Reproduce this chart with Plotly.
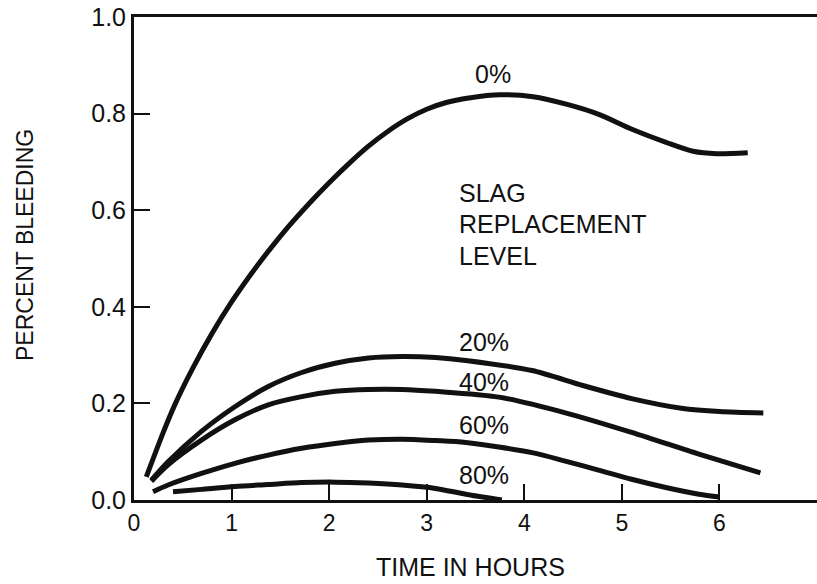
import plotly.graph_objects as go

# ---- data ----
t_0 = [0.126, 0.30, 0.42, 0.60, 0.80, 1.00, 1.20, 1.40, 1.60, 1.80, 2.00, 2.20, 2.40, 2.60, 2.80,
       3.00, 3.20, 3.45, 3.75, 4.09, 4.44, 4.77, 5.11, 5.46, 5.73, 5.97, 6.29]
y_0 = [0.048, 0.140, 0.198, 0.272, 0.345, 0.410, 0.468, 0.521, 0.570, 0.615, 0.657, 0.696, 0.732, 0.763, 0.789,
       0.809, 0.823, 0.833, 0.839, 0.835, 0.819, 0.798, 0.767, 0.740, 0.722, 0.717, 0.719]

t_20 = [0.178, 0.349, 0.691, 1.034, 1.376, 1.719, 2.062, 2.404, 2.747, 3.09, 3.40, 4.08, 4.60, 5.10, 5.61, 6.00, 6.45]
y_20 = [0.041, 0.079, 0.142, 0.193, 0.235, 0.264, 0.283, 0.294, 0.297, 0.295, 0.289, 0.268, 0.237, 0.210, 0.190, 0.183, 0.180]

t_40 = [0.178, 0.349, 0.691, 1.034, 1.376, 1.719, 2.062, 2.404, 2.747, 3.09, 3.74, 4.43, 5.10, 5.79, 6.42]
y_40 = [0.039, 0.073, 0.124, 0.166, 0.197, 0.214, 0.225, 0.229, 0.229, 0.225, 0.213, 0.180, 0.140, 0.095, 0.056]

t_60 = [0.195, 0.349, 0.691, 1.034, 1.376, 1.719, 2.062, 2.404, 2.747, 3.09, 3.40, 4.08, 4.43, 4.76, 5.10, 5.45, 5.79, 6.00]
y_60 = [0.017, 0.031, 0.055, 0.076, 0.093, 0.107, 0.117, 0.124, 0.126, 0.123, 0.119, 0.098, 0.080, 0.062, 0.043, 0.026, 0.012, 0.006]

t_80 = [0.40, 0.691, 1.034, 1.376, 1.719, 2.062, 2.404, 2.747, 3.09, 3.40, 3.77]
y_80 = [0.017, 0.022, 0.028, 0.032, 0.036, 0.037, 0.035, 0.031, 0.024, 0.012, 0.000]

series = [(t_0, y_0), (t_20, y_20), (t_40, y_40), (t_60, y_60), (t_80, y_80)]

curve_labels = ["0%", "20%", "40%", "60%", "80%"]
label_x = [3.47, 3.31, 3.31, 3.31, 3.31]
label_y = [0.881, 0.327, 0.245, 0.155, 0.052]

legend_title_lines = ["SLAG", "REPLACEMENT", "LEVEL"]
legend_title_y = [0.635, 0.572, 0.506]
legend_title_x = 3.31

x_ticks = [0, 1, 2, 3, 4, 5, 6, 7]
y_ticks = [0.0, 0.2, 0.4, 0.6, 0.8, 1.0]

x_title = "TIME IN HOURS"
y_title = "PERCENT BLEEDING"

FONT = "Liberation Sans, Arial, Helvetica, sans-serif"
INK = "#111111"

fig = go.Figure()
for (tx, ty), name in zip(series, curve_labels):
    fig.add_trace(go.Scatter(
        x=tx, y=ty, mode="lines", name=name,
        line=dict(color=INK, width=5, shape="spline", smoothing=0.8),
        showlegend=False, hoverinfo="skip",
    ))

annotations = []
for lx, ly, txt in zip(label_x, label_y, curve_labels):
    annotations.append(dict(x=lx, y=ly, xref="x", yref="y", text=txt, showarrow=False,
                            xanchor="left", yanchor="middle",
                            font=dict(family=FONT, size=25, color=INK)))
for ly, txt in zip(legend_title_y, legend_title_lines):
    annotations.append(dict(x=legend_title_x, y=ly, xref="x", yref="y", text=txt, showarrow=False,
                            xanchor="left", yanchor="middle",
                            font=dict(family=FONT, size=25, color=INK)))
# axis titles (positions given in pixels, converted below)
annotations.append(dict(x=470, y=567, xref="paper", yref="paper", text=x_title, showarrow=False,
                        xanchor="center", yanchor="middle",
                        font=dict(family=FONT, size=25, color=INK)))
annotations.append(dict(x=25, y=245, xref="paper", yref="paper", text=y_title, showarrow=False,
                        textangle=-90, xanchor="center", yanchor="middle",
                        font=dict(family=FONT, size=23, color=INK)))

W, H = 817, 584
L, R, T, B = 134, 0, 17, 84
pw, ph = W - L - R, H - T - B
for a in annotations[-2:]:
    a["x"] = (a["x"] - L) / pw
    a["y"] = (H - B - a["y"]) / ph

fig.update_layout(
    width=W, height=H,
    margin=dict(l=L, r=R, t=T, b=B, pad=0),
    paper_bgcolor="white", plot_bgcolor="white",
    font=dict(family=FONT, size=23, color=INK),
    annotations=annotations,
)

fig.update_xaxes(
    range=[0, 7], tickvals=x_ticks, ticktext=[str(v) for v in x_ticks],
    ticks="inside", ticklen=16, tickwidth=2, tickcolor=INK,
    showline=True, linewidth=3, linecolor=INK, mirror=True,
    showgrid=False, zeroline=False,
    tickfont=dict(family=FONT, size=23, color=INK),
    automargin=False,
)
fig.update_yaxes(
    range=[0, 1], tickvals=y_ticks, ticktext=[f"{v:.1f}" for v in y_ticks],
    ticks="inside", ticklen=16, tickwidth=2, tickcolor=INK,
    showline=True, linewidth=3, linecolor=INK, mirror=True,
    showgrid=False, zeroline=False,
    tickfont=dict(family=FONT, size=25, color=INK),
    automargin=False,
)

fig.write_html("out.html")
